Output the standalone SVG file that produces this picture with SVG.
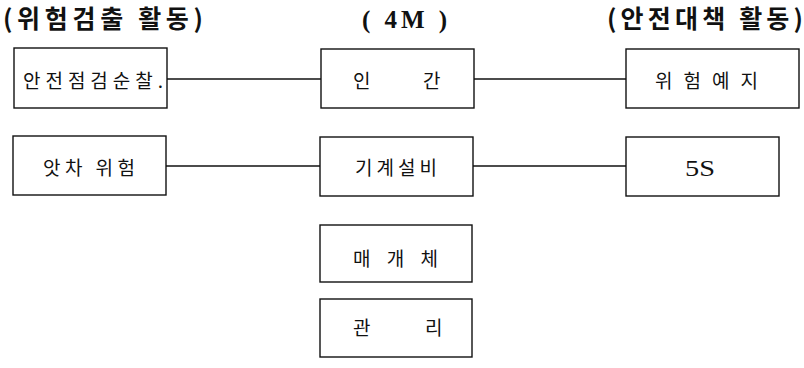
<svg xmlns="http://www.w3.org/2000/svg" width="804" height="368" viewBox="0 0 804 368">
<style>
.box{fill:#fff;stroke:#111;stroke-width:1.4}
.ln{stroke:#111;stroke-width:1.4;fill:none}
.hd{font-family:"Noto Sans CJK KR","Liberation Sans",sans-serif;font-weight:bold;font-size:25px;fill:#111}
.lb{font-family:"Noto Sans CJK KR","Liberation Sans",sans-serif;font-size:19px;fill:#111}
.sf{font-family:"Liberation Serif","DejaVu Serif",serif;fill:#111}
</style>
<rect width="804" height="368" fill="#fff"/>
<g id="headers">
<text class="hd" x="3" y="28" textLength="200" lengthAdjust="spacing">(위험검출 활동)</text>
<text class="sf" x="362" y="28" font-size="25" font-weight="bold" textLength="85" lengthAdjust="spacing">( 4M )</text>
<text class="hd" x="607" y="28" textLength="196" lengthAdjust="spacing">(안전대책 활동)</text>
</g>
<g id="connectors">
<line class="ln" x1="167" y1="79" x2="321" y2="79"/>
<line class="ln" x1="474" y1="79" x2="626" y2="79"/>
<line class="ln" x1="166" y1="166" x2="320" y2="166"/>
<line class="ln" x1="473" y1="166" x2="626" y2="166"/>
</g>
<g id="n-patrol">
<rect class="box" x="14" y="48" width="153" height="60"/>
<text class="lb" x="23" y="88" textLength="140" lengthAdjust="spacing">안전점검순찰.</text>
</g>
<g id="n-human">
<rect class="box" x="321" y="49" width="153" height="59"/>
<text class="lb" x="353" y="88">인</text>
<text class="lb" x="423" y="88">간</text>
</g>
<g id="n-kyt">
<rect class="box" x="626" y="49" width="173" height="59"/>
<text class="lb" x="655" y="88" textLength="103" lengthAdjust="spacing">위험예지</text>
</g>
<g id="n-nearmiss">
<rect class="box" x="13" y="136" width="153" height="59"/>
<text class="lb" x="43" y="175" textLength="92" lengthAdjust="spacing">앗차 위험</text>
</g>
<g id="n-machine">
<rect class="box" x="320" y="137" width="153" height="59"/>
<text class="lb" x="355" y="175" textLength="82" lengthAdjust="spacing">기계설비</text>
</g>
<g id="n-5s">
<rect class="box" x="626" y="137" width="153" height="59"/>
<text class="sf" x="685" y="176" font-size="24" textLength="30" lengthAdjust="spacingAndGlyphs">5S</text>
</g>
<g id="n-media">
<rect class="box" x="320" y="225" width="152" height="57"/>
<text class="lb" x="353" y="266" textLength="85" lengthAdjust="spacing">매개체</text>
</g>
<g id="n-manage">
<rect class="box" x="320" y="299" width="152" height="58"/>
<text class="lb" x="353" y="335">관</text>
<text class="lb" x="425" y="335">리</text>
</g>
</svg>
